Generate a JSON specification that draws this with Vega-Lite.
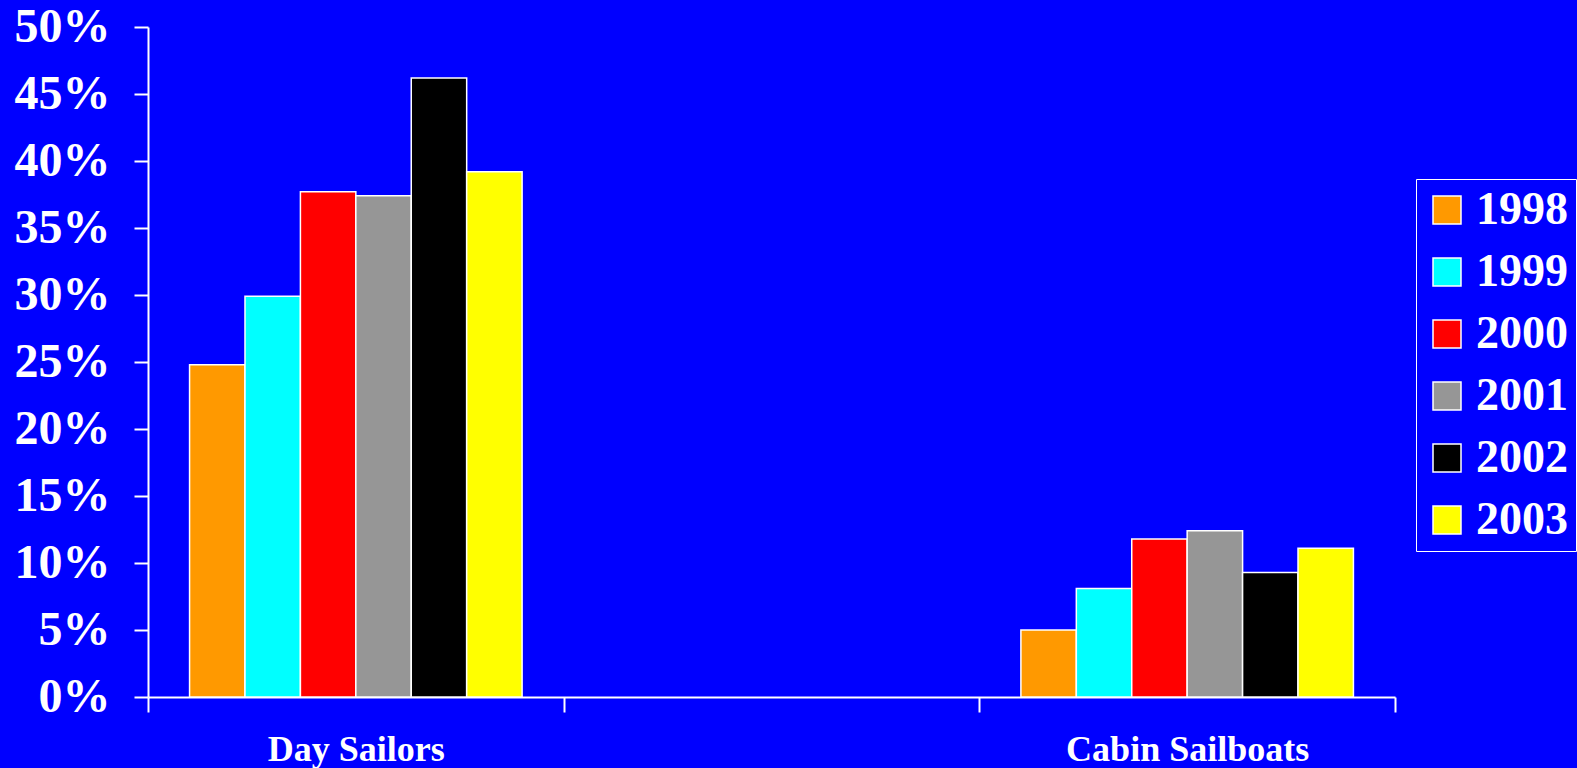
{
  "$schema": "https://vega.github.io/schema/vega-lite/v6.json",
  "autosize": "none",
  "width": 1247,
  "height": 670,
  "padding": {"left": 148, "top": 27, "right": 182, "bottom": 71},
  "background": "#0000FF",
  "config": {
    "view": {"stroke": null},
    "font": "Liberation Serif"
  },
  "data": {
    "values": [
      {"cat": "Day Sailors", "year": "1998", "value": 0.248},
      {"cat": "Day Sailors", "year": "1999", "value": 0.299},
      {"cat": "Day Sailors", "year": "2000", "value": 0.377},
      {"cat": "Day Sailors", "year": "2001", "value": 0.374},
      {"cat": "Day Sailors", "year": "2002", "value": 0.462},
      {"cat": "Day Sailors", "year": "2003", "value": 0.392},
      {"cat": "Cabin Sailboats", "year": "1998", "value": 0.050},
      {"cat": "Cabin Sailboats", "year": "1999", "value": 0.081},
      {"cat": "Cabin Sailboats", "year": "2000", "value": 0.118},
      {"cat": "Cabin Sailboats", "year": "2001", "value": 0.124},
      {"cat": "Cabin Sailboats", "year": "2002", "value": 0.093},
      {"cat": "Cabin Sailboats", "year": "2003", "value": 0.111}
    ]
  },
  "mark": {"type": "bar", "stroke": "white", "strokeWidth": 1.5},
  "encoding": {
    "x": {
      "field": "cat",
      "type": "nominal",
      "sort": null,
      "scale": {"domain": ["Day Sailors", " ", "Cabin Sailboats"], "paddingInner": 0, "paddingOuter": 0},
      "axis": {
        "title": null,
        "labelAngle": 0,
        "labelLimit": 0,
        "domainColor": "white",
        "domainWidth": 2,
        "tickColor": "white",
        "tickWidth": 2,
        "tickSize": 15,
        "tickBand": "extent",
        "labelColor": "white",
        "labelFont": "Liberation Serif",
        "labelFontWeight": "bold",
        "labelFontSize": 36,
        "labelPadding": 20
      }
    },
    "xOffset": {
      "field": "year",
      "type": "nominal",
      "scale": {"paddingInner": 0, "paddingOuter": 0.75}
    },
    "y": {
      "field": "value",
      "type": "quantitative",
      "scale": {"domain": [0, 0.5], "nice": false},
      "axis": {
        "title": null,
        "values": [0, 0.05, 0.1, 0.15, 0.2, 0.25, 0.3, 0.35, 0.4, 0.45, 0.5],
        "format": ".0%",
        "grid": false,
        "domainColor": "white",
        "domainWidth": 2,
        "tickColor": "white",
        "tickWidth": 2,
        "tickSize": 14,
        "labelColor": "white",
        "labelFont": "Liberation Serif",
        "labelFontWeight": "bold",
        "labelFontSize": 48,
        "labelPadding": 24,
        "labelBaseline": "middle"
      }
    },
    "color": {
      "field": "year",
      "type": "nominal",
      "scale": {
        "domain": ["1998", "1999", "2000", "2001", "2002", "2003"],
        "range": ["#FF9900", "#00FFFF", "#FF0000", "#969696", "#000000", "#FFFF00"]
      },
      "legend": {
        "title": null,
        "orient": "none",
        "legendX": 1268,
        "legendY": 152,
        "strokeColor": "white",
        "padding": 8,
        "symbolType": "square",
        "symbolSize": 784,
        "symbolStrokeColor": "white",
        "symbolStrokeWidth": 1.5,
        "symbolOpacity": 1,
        "labelColor": "white",
        "labelFont": "Liberation Serif",
        "labelFontWeight": "bold",
        "labelFontSize": 46,
        "labelOffset": 6,
        "labelLimit": 0,
        "rowPadding": 16
      }
    }
  }
}
